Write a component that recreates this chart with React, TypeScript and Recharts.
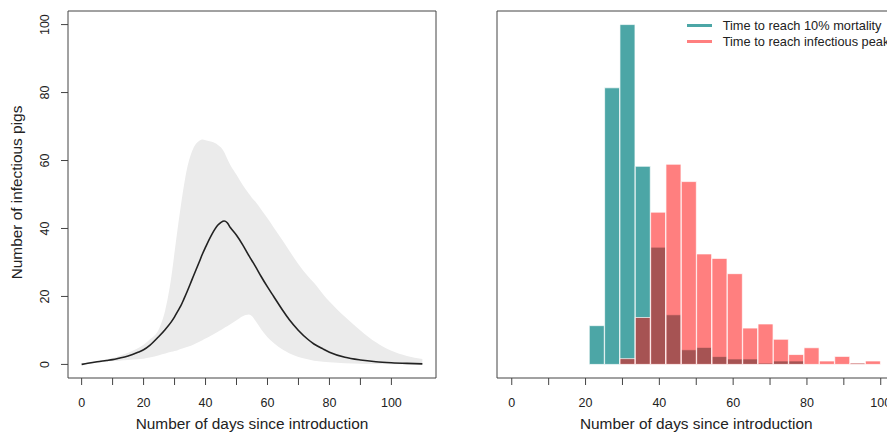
import React from 'react';
import { ComposedChart, Area, Line, Bar, XAxis, YAxis, Legend } from 'recharts';

// ---- Left panel: epidemic curve (median and envelope) ----
const days = [0, 2, 5, 8, 10, 12, 15, 18, 20, 22, 25, 27, 29, 30, 31, 32, 33, 34, 35, 36, 37, 38, 39, 40, 42, 44, 45, 46, 47, 48, 50, 52, 54, 55, 56, 58, 60, 62, 65, 67, 70, 73, 75, 78, 80, 85, 90, 95, 100, 105, 110];
const medianInfectious = [0, 0.35, 0.8, 1.15, 1.4, 1.8, 2.5, 3.5, 4.3, 5.6, 8.3, 10.3, 12.6, 14, 15.6, 17.2, 19.2, 21.3, 23.5, 25.8, 28, 30.2, 32.5, 34.5, 38.2, 41, 41.8, 42.2, 41.7, 40.3, 38, 35.2, 32, 30.5, 29, 25.8, 22.8, 20, 15.8, 13.2, 10, 7.4, 6, 4.5, 3.6, 2.1, 1.3, 0.8, 0.5, 0.3, 0.15];
const lowerInfectious = [0, 0.2, 0.5, 0.8, 1.0, 1.1, 1.3, 1.5, 1.7, 2.0, 2.7, 3.2, 3.7, 3.95, 4.2, 4.5, 4.8, 5.1, 5.4, 5.8, 6.2, 6.7, 7.1, 7.6, 8.6, 9.6, 10.1, 10.7, 11.2, 11.8, 13.0, 14.2, 14.7, 14.2, 13.0, 10.3, 8.0, 6.3, 4.3, 3.3, 2.2, 1.5, 1.1, 0.8, 0.6, 0.35, 0.2, 0.1, 0.05, 0.03, 0.02];
const upperInfectious = [0.1, 0.5, 0.9, 1.5, 1.9, 2.4, 3.4, 4.7, 5.8, 7.3, 10.5, 16, 26, 33, 40, 46.5, 52.5, 57.5, 61, 63.5, 65, 65.8, 66.2, 66, 65.5, 64.6, 63.8, 62.5, 60.5, 58.7, 55.8, 52.8, 50.2, 49, 48, 45.5, 43, 40.3, 36.3, 33.5, 29.5, 26, 24, 20.6, 18.5, 14, 10, 6.5, 4, 2.5, 1.6];

// ---- Right panel: histograms ----
const binCenters = [23.08, 27.24, 31.4, 35.55, 39.71, 43.87, 48.03, 52.18, 56.34, 60.5, 64.66, 68.82, 72.97, 77.13, 81.29, 85.45, 89.61, 93.76, 97.92];
const mortalityFreq = [11.4, 81.4, 100, 58.3, 34.5, 14.6, 4.3, 5.0, 2.3, 1.6, 1.6, 0.4, 1.0, 1.0, 0, 0, 0, 0.4, 0];
const peakFreq = [0, 0, 1.7, 13.8, 44.8, 58.9, 53.8, 32.5, 31.2, 26.7, 10.7, 11.9, 7.4, 2.9, 4.9, 1.0, 2.35, 0.4, 1.0];

const xTicks = [0, 10, 20, 30, 40, 50, 60, 70, 80, 90, 100];
const xTickLabels = ['0', '', '20', '', '40', '', '60', '', '80', '', '100'];
const yTicks = [0, 20, 40, 60, 80, 100];
const seriesNames = ['Time to reach 10% mortality', 'Time to reach infectious peak'];
const xLabel = 'Number of days since introduction';
const yLabel = 'Number of infectious pigs';

const leftData = days.map((d, i) => ({
  day: d,
  median: medianInfectious[i],
  band: [lowerInfectious[i], upperInfectious[i]],
}));
const rightData = binCenters.map((c, i) => ({ center: c, mort: mortalityFreq[i], peak: peakFreq[i] }));

const FONT = 'Liberation Sans, Arial, Helvetica, sans-serif';
const AXIS = '#444444';
const TEXT = '#222222';
const barStyles = [
  { fill: 'rgb(0,128,128)', opacity: 0.7 },
  { fill: 'rgb(255,0,0)', opacity: 0.5 },
];

const tickFmt = (v: number) => {
  const i = xTicks.indexOf(v);
  return i >= 0 ? xTickLabels[i] : '';
};

const RotatedYTick = (props: any) => {
  const { x, y, payload } = props;
  const bx = x - 12;
  return (
    <text x={bx} y={y} transform={`rotate(-90, ${bx}, ${y})`} textAnchor="middle" fontSize={12.5} fill={TEXT} fontFamily={FONT}>
      {payload.value}
    </text>
  );
};

const XLabelContent = (p: any) => {
  const vb = p.viewBox || {};
  return (
    <text x={vb.x + vb.width / 2} y={vb.y + vb.height - 6} textAnchor="middle" fontSize={15.4} fill={TEXT} fontFamily={FONT}>
      {xLabel}
    </text>
  );
};

const YLabelContent = (p: any) => {
  const vb = p.viewBox || {};
  const x = vb.x + 21.5;
  const y = vb.y + vb.height / 2 - 2;
  return (
    <text x={x} y={y} transform={`rotate(-90, ${x}, ${y})`} textAnchor="middle" fontSize={15.4} fill={TEXT} fontFamily={FONT}>
      {yLabel}
    </text>
  );
};

const LegendContent = (props: any) => {
  const payload = props.payload || [];
  return (
    <div style={{ fontFamily: FONT, fontSize: 12.8, color: TEXT, whiteSpace: 'nowrap' }}>
      {payload.map((entry: any, i: number) => (
        <div key={i} style={{ height: 16, display: 'flex', alignItems: 'center' }}>
          <span
            style={{
              display: 'inline-block',
              width: 25,
              height: 3,
              background: barStyles[i].fill,
              opacity: barStyles[i].opacity,
              marginRight: 11,
            }}
          />
          <span>{entry.value}</span>
        </div>
      ))}
    </div>
  );
};

const tickStyle = { fontSize: 12.5, fill: TEXT, fontFamily: FONT };

export default function App() {
  return (
    <div style={{ position: 'absolute', left: 0, top: 0, width: 887, height: 435, overflow: 'hidden', background: '#fff' }}>
      <div style={{ position: 'absolute', left: 0, top: 0 }}>
        <ComposedChart width={437} height={435} data={leftData} margin={{ top: 10, right: 0, bottom: 0, left: 0 }}>
          <XAxis
            dataKey="day"
            type="number"
            domain={[-4.4, 114.4]}
            allowDataOverflow
            ticks={xTicks}
            interval={0}
            tickFormatter={tickFmt}
            height={57}
            tickSize={7}
            tickMargin={13}
            tick={tickStyle}
            stroke={AXIS}
            axisLine={{ stroke: AXIS }}
            tickLine={{ stroke: AXIS }}
            label={{ value: xLabel, content: XLabelContent }}
          />
          <XAxis xAxisId="top" dataKey="day" type="number" orientation="top" domain={[-4.4, 114.4]} allowDataOverflow height={1} tick={false} tickLine={false} axisLine={{ stroke: AXIS }} />
          <YAxis
            type="number"
            domain={[-4, 104]}
            allowDataOverflow
            ticks={yTicks}
            interval={0}
            width={68}
            tickSize={7}
            tickMargin={0}
            tick={<RotatedYTick />}
            axisLine={{ stroke: AXIS }}
            tickLine={{ stroke: AXIS }}
            label={{ value: yLabel, content: YLabelContent }}
          />
          <YAxis yAxisId="r" orientation="right" type="number" domain={[-4, 104]} allowDataOverflow width={1} tick={false} tickLine={false} axisLine={{ stroke: AXIS }} />
          <Area dataKey="band" type="monotone" stroke="none" fill="#EBEBEB" fillOpacity={1} isAnimationActive={false} dot={false} activeDot={false} />
          <Line dataKey="median" type="monotone" stroke="#222222" strokeWidth={1.6} dot={false} activeDot={false} isAnimationActive={false} />
        </ComposedChart>
      </div>
      <div style={{ position: 'absolute', left: 440, top: 0 }}>
        <ComposedChart width={459} height={435} data={rightData} margin={{ top: 10, right: 3.5, bottom: 0, left: 0 }} barCategoryGap={0} barGap={0}>
          <XAxis
            dataKey="center"
            type="number"
            domain={[-4, 104]}
            allowDataOverflow
            ticks={xTicks}
            interval={0}
            tickFormatter={tickFmt}
            height={57}
            tickSize={7}
            tickMargin={13}
            tick={tickStyle}
            axisLine={{ stroke: AXIS }}
            tickLine={{ stroke: AXIS }}
            label={{ value: xLabel, content: XLabelContent }}
          />
          <XAxis xAxisId="b" dataKey="center" type="number" domain={[-4, 104]} allowDataOverflow hide />
          <XAxis xAxisId="top" dataKey="center" type="number" orientation="top" domain={[-4, 104]} allowDataOverflow height={1} tick={false} tickLine={false} axisLine={{ stroke: AXIS }} />
          <YAxis type="number" domain={[-4, 104]} allowDataOverflow width={57} tick={false} tickLine={false} axisLine={{ stroke: AXIS }} />
          <Legend
            layout="vertical"
            align="center"
            verticalAlign="middle"
            wrapperStyle={{ position: 'absolute', left: 246.7, top: 17.7, width: 320, height: 'auto' }}
            content={<LegendContent />}
          />
          <Bar
            dataKey="mort"
            name={seriesNames[0]}
            fill={barStyles[0].fill}
            fillOpacity={barStyles[0].opacity}
            stroke="#ffffff"
            strokeOpacity={0.7}
            strokeWidth={1}
            isAnimationActive={false}
          />
          <Bar
            dataKey="peak"
            xAxisId="b"
            name={seriesNames[1]}
            fill={barStyles[1].fill}
            fillOpacity={barStyles[1].opacity}
            stroke="#ffffff"
            strokeOpacity={0.7}
            strokeWidth={1}
            isAnimationActive={false}
          />
        </ComposedChart>
      </div>
    </div>
  );
}
